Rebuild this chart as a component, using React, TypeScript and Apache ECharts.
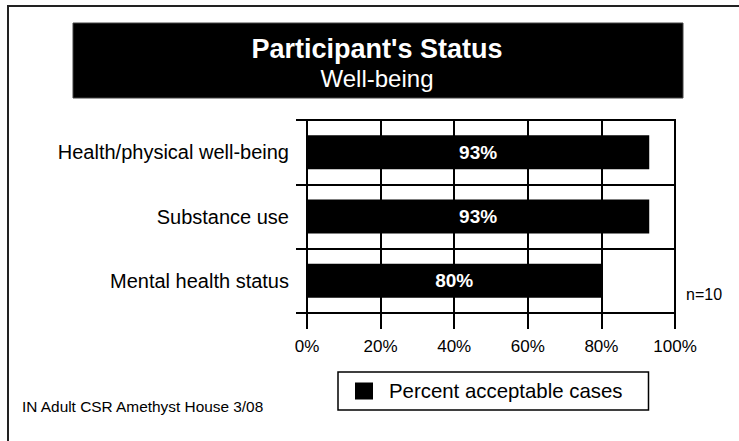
import React, { useEffect, useRef } from "react";
import * as echarts from "echarts";

const FONT = "'Liberation Sans', Arial, sans-serif";

const categories = ["Health/physical well-being", "Substance use", "Mental health status"];
const percentAcceptable = [93, 93, 80];
const xTicks = [0, 20, 40, 60, 80, 100];
const seriesName = "Percent acceptable cases";
const titleText = "Participant's Status";
const subtitleText = "Well-being";
const sampleNote = "n=10";
const footerText = "IN Adult CSR Amethyst House 3/08";

const LINE = { color: "#000", width: 2 };

// plot frame
const GRID = { left: 307, top: 120, width: 368, height: 193 };

export default function App() {
  const ref = useRef<HTMLDivElement>(null);

  useEffect(() => {
    if (!ref.current) return;
    const chart = echarts.init(ref.current, null, { renderer: "svg" });
    chart.setOption({
      animation: false,
      backgroundColor: "#ffffff",
      textStyle: { fontFamily: FONT },
      grid: {
        ...GRID,
        containLabel: false,
        show: true,
        borderColor: "#000",
        borderWidth: 2,
        backgroundColor: "transparent",
      },
      xAxis: {
        type: "value",
        min: xTicks[0],
        max: xTicks[xTicks.length - 1],
        interval: 20,
        axisLine: { show: true, lineStyle: LINE },
        axisTick: { show: true, length: 16, lineStyle: LINE },
        splitLine: { show: true, lineStyle: LINE },
        axisLabel: {
          formatter: "{value}%",
          color: "#000",
          fontSize: 17,
          fontFamily: FONT,
          margin: 25,
        },
      },
      yAxis: {
        type: "category",
        data: categories,
        inverse: true,
        axisLine: { show: true, lineStyle: LINE },
        axisTick: { show: true, length: 11, lineStyle: LINE },
        splitLine: { show: true, lineStyle: LINE },
        axisLabel: { color: "#000", fontSize: 20, fontFamily: FONT, margin: 18 },
      },
      legend: {
        data: [seriesName],
        left: 338,
        top: 372,
        orient: "horizontal",
        padding: [9, 26, 9, 17],
        itemWidth: 18,
        itemHeight: 17,
        icon: "rect",
        borderColor: "#000",
        borderWidth: 1.5,
        borderRadius: 0,
        backgroundColor: "#fff",
        selectedMode: false,
        textStyle: { color: "#000", fontSize: 20.4, fontFamily: FONT, padding: [0, 0, 0, 11] },
      },
      series: [
        {
          name: seriesName,
          type: "bar",
          data: percentAcceptable,
          barWidth: 34,
          itemStyle: { color: "#000" },
          label: {
            show: true,
            position: "inside",
            formatter: "{c}%",
            color: "#fff",
            fontWeight: "bold",
            fontSize: 19,
            fontFamily: FONT,
          },
        },
      ],
      graphic: [
        {
          type: "rect",
          shape: { x: 8, y: 6, width: 800, height: 500 },
          style: { fill: "none", stroke: "#222", lineWidth: 2 },
          silent: true,
        },
        {
          // top edge of the plot frame, running out over the category tick
          type: "rect",
          shape: { x: GRID.left - 11, y: GRID.top - 1, width: GRID.width + 11, height: 2 },
          style: { fill: "#000" },
          silent: true,
          z: 10,
        },
        {
          type: "rect",
          shape: { x: 73, y: 23, width: 610, height: 75 },
          style: { fill: "#000", stroke: "#444", lineWidth: 1 },
          silent: true,
        },
        {
          type: "text",
          x: 377,
          y: 49,
          style: {
            text: titleText,
            fill: "#fff",
            font: `bold 27px ${FONT}`,
            textAlign: "center",
            textVerticalAlign: "middle",
          },
        },
        {
          type: "text",
          x: 377,
          y: 78,
          style: {
            text: subtitleText,
            fill: "#fff",
            font: `24px ${FONT}`,
            textAlign: "center",
            textVerticalAlign: "middle",
          },
        },
        {
          type: "text",
          x: 686,
          y: 294,
          style: {
            text: sampleNote,
            fill: "#000",
            font: `16px ${FONT}`,
            textAlign: "left",
            textVerticalAlign: "middle",
          },
        },
        {
          type: "text",
          x: 22,
          y: 406,
          style: {
            text: footerText,
            fill: "#000",
            font: `15.4px ${FONT}`,
            textAlign: "left",
            textVerticalAlign: "middle",
          },
        },
      ],
    });
    return () => chart.dispose();
  }, []);

  return (
    <div
      ref={ref}
      style={{ position: "fixed", left: 0, top: 0, width: 739, height: 441 }}
    />
  );
}
